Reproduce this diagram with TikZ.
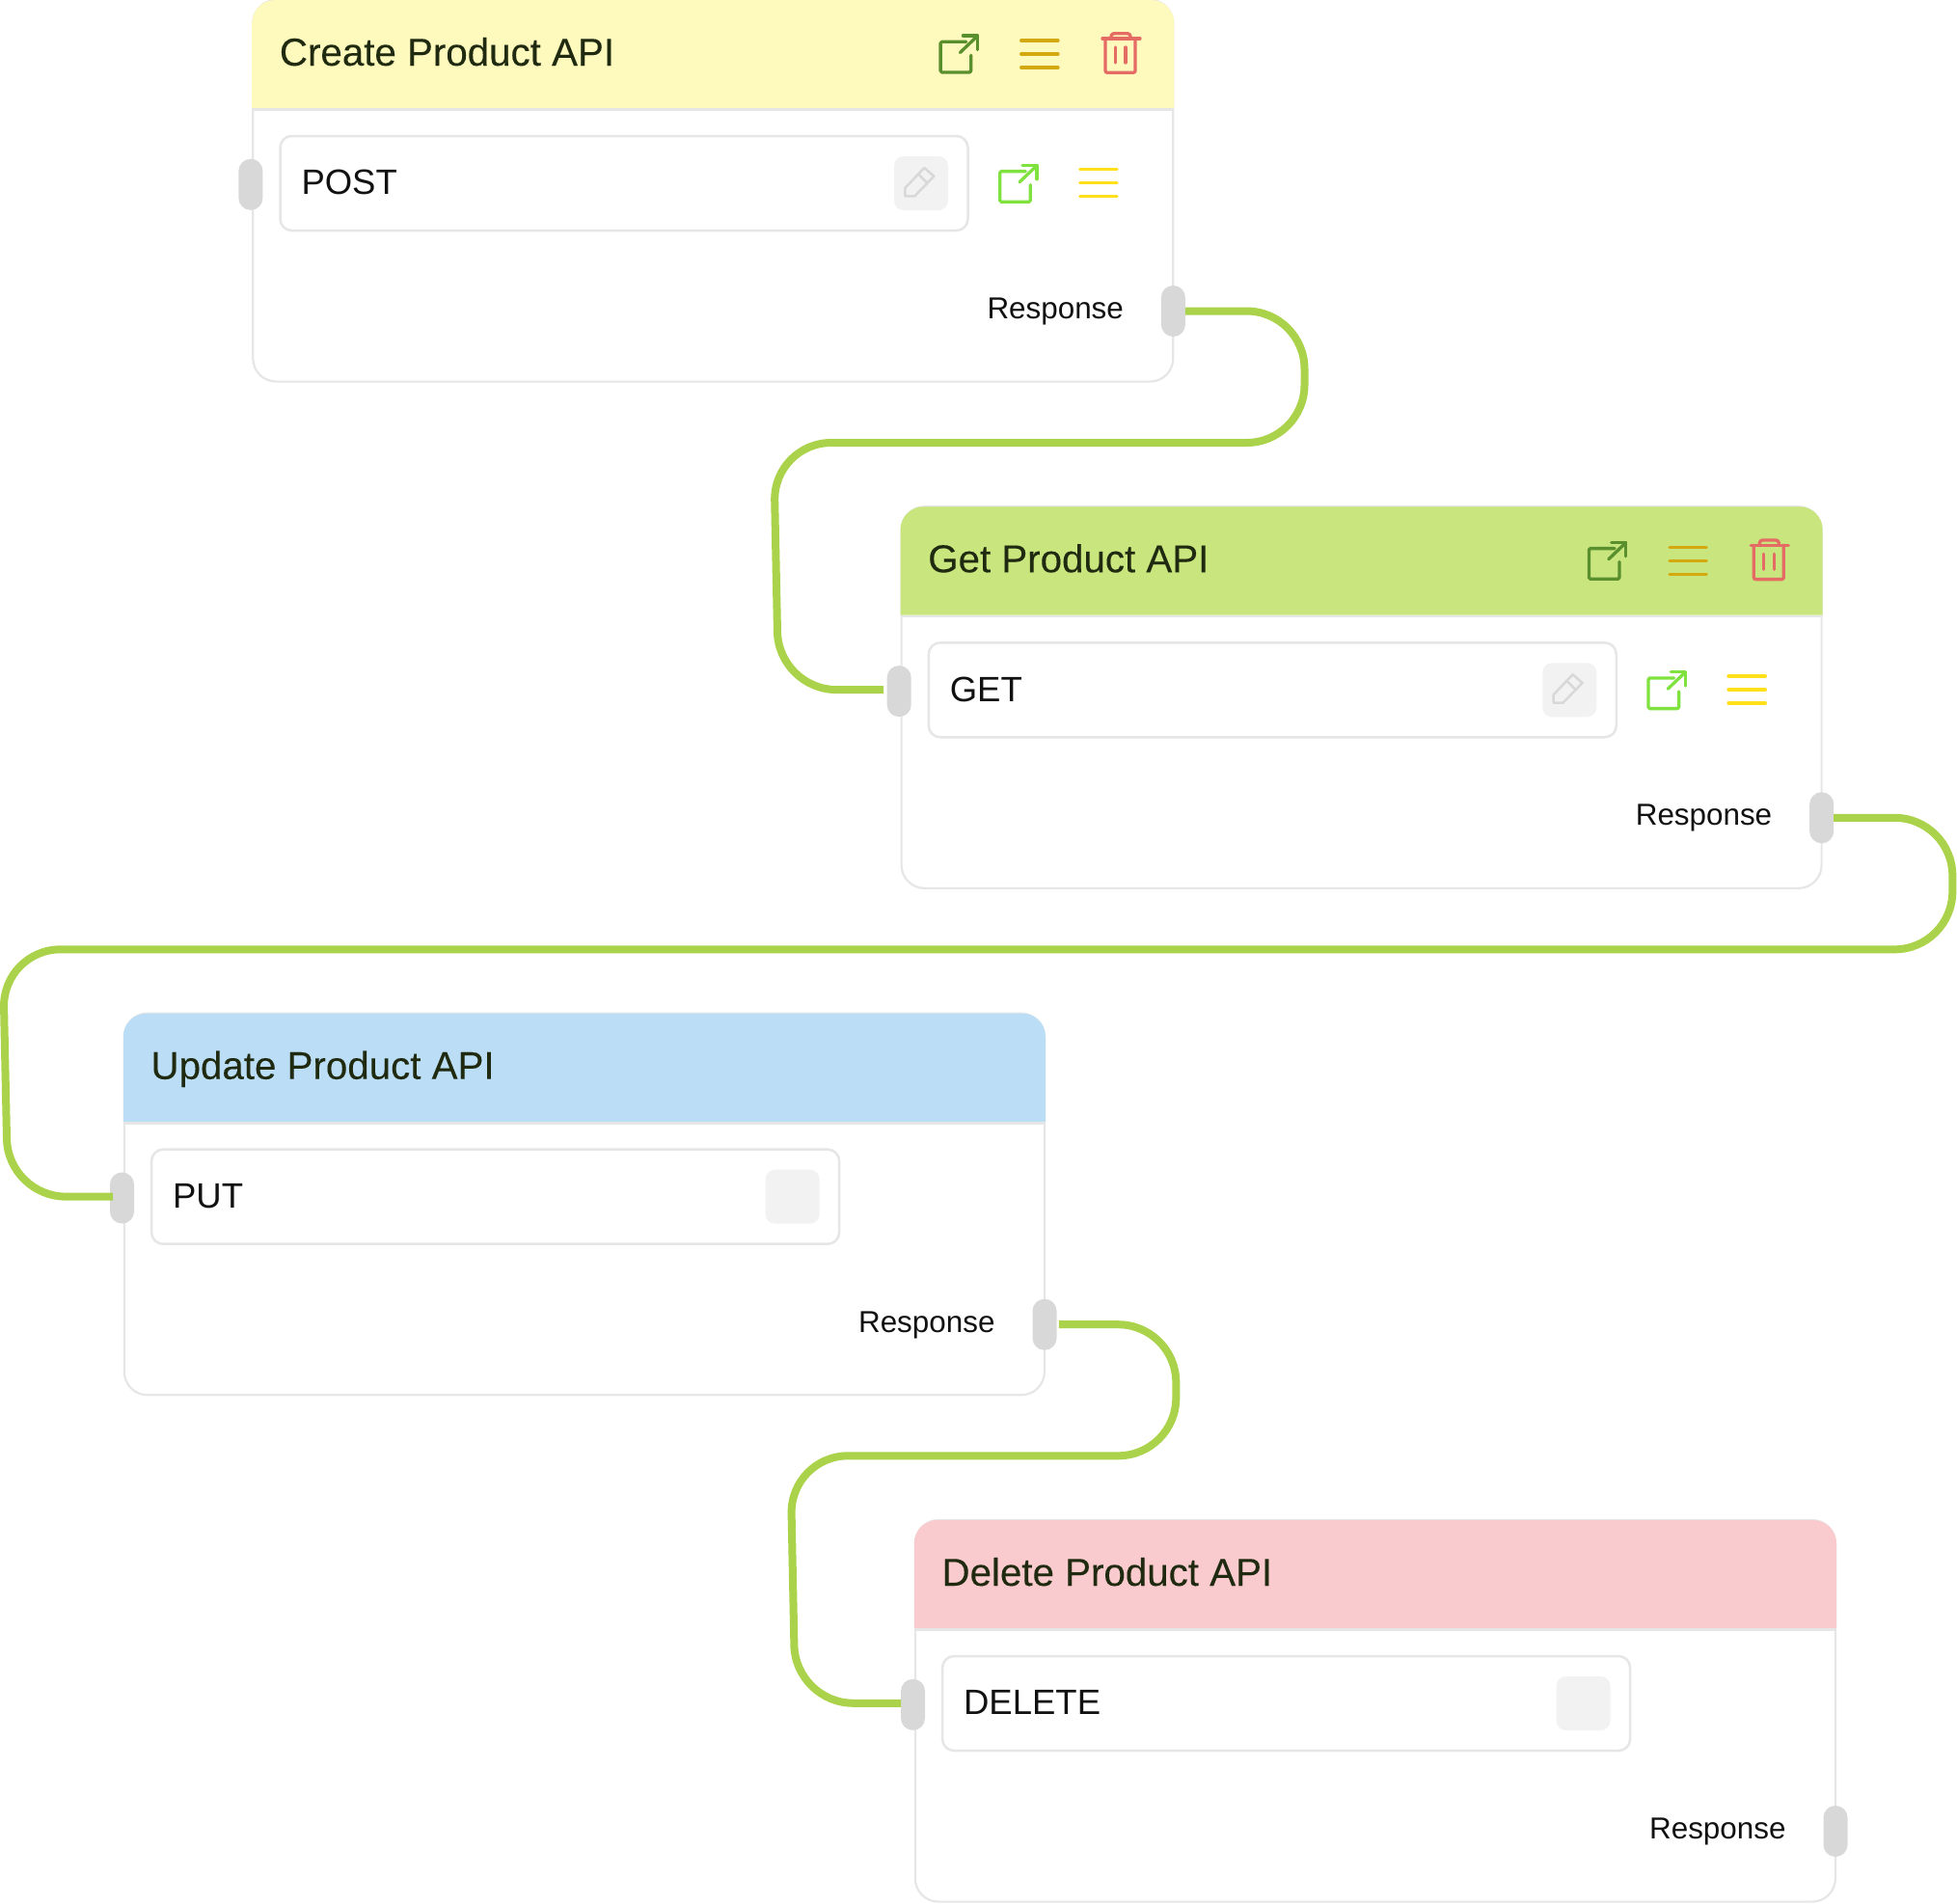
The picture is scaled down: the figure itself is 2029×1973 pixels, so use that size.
\documentclass[tikz,border=0pt]{standalone}
\usepackage{fontspec}
\setmainfont{Liberation Sans}
\newfontfamily\titlefont[FakeBold=0.12]{Liberation Sans}

\definecolor{cardline}{HTML}{E6E6E6}
\definecolor{handlegray}{HTML}{D8D8D8}
\definecolor{wiregreen}{HTML}{ABD24B}
\definecolor{titleink}{HTML}{1F2A10}
\definecolor{methodink}{HTML}{111111}
\definecolor{headyellow}{HTML}{FEF9BC}
\definecolor{headgreen}{HTML}{C9E57D}
\definecolor{headblue}{HTML}{BBDEF6}
\definecolor{headpink}{HTML}{F9CBCE}
\definecolor{opendark}{HTML}{5A8F2E}
\definecolor{openlight}{HTML}{7FE23F}
\definecolor{menudark}{HTML}{D4A90F}
\definecolor{menulight}{HTML}{FFE01A}
\definecolor{trashred}{HTML}{E56B65}

\tikzset{
  cardbody/.style={draw=cardline,line width=2.2pt,fill=white,rounded corners=24pt,minimum width=954pt,minimum height=395.6pt,inner sep=0pt,outer sep=0pt},
  cardhead/.style={rounded corners=24pt},
  carddivider/.style={draw=cardline,line width=2.5pt},
  inputbox/.style={draw=cardline,line width=2.5pt,fill=white,rounded corners=12pt,minimum width=713pt,minimum height=98pt,inner sep=0pt,outer sep=0pt},
  editbutton/.style={fill=black!5,rounded corners=10pt,minimum width=56pt,minimum height=56pt,inner sep=0pt,outer sep=0pt},
  porthandle/.style={fill=handlegray,rounded corners=12.4pt,minimum width=25pt,minimum height=53pt,inner sep=0pt,outer sep=0pt},
  cardtitle/.style={anchor=base west,inner sep=0pt,text=titleink,font=\titlefont\fontsize{40.3}{48}\selectfont},
  methodlabel/.style={anchor=base west,inner sep=0pt,text=methodink,font=\fontsize{36.5}{44}\selectfont},
  responselabel/.style={anchor=base east,inner sep=0pt,text=methodink,font=\fontsize{31.4}{36}\selectfont},
  wire/.style={draw=wiregreen,line width=8pt,rounded corners=60pt},
  iconline/.style={line width=3.3pt,line cap=round,line join=round},
  pics/openicon/.style={code={
    \draw[iconline,#1,rounded corners=1.5pt] (28.3,8.3) -- (1.7,8.3) -- (1.7,40) -- (33.3,40) -- (33.3,22.3);
    \draw[iconline,#1] (22,19.5) -- (40,2.3);
    \draw[iconline,#1] (25,2) -- (40,2) -- (40,16.5);
  }},
  pics/menuicon/.style={code={
    \draw[iconline,#1] (1.7,0) -- (40,0);
    \draw[iconline,#1] (1.7,14) -- (40,14);
    \draw[iconline,#1] (1.7,28) -- (40,28);
  }},
  pics/trashicon/.style={code={
    \draw[iconline,trashred] (1,7) -- (40,7);
    \draw[iconline,trashred,rounded corners=2pt] (4,7) -- (4,42.3) -- (35,42.3) -- (35,7);
    \draw[iconline,trashred,rounded corners=3pt] (10,7) -- (10,1.7) -- (30,1.7) -- (30,7);
    \draw[iconline,trashred] (14.3,16) -- (14.3,32);
    \draw[iconline,trashred] (25,16) -- (25,32);
  }},
  pics/pencilicon/.style={code={
    \draw[line width=2.5pt,handlegray,line join=round] (-16.4,13.3) -- (-16.4,5) -- (3.6,-16) -- (13.6,-7.3) -- (-6.4,13.3) -- cycle;
    \draw[line width=2.5pt,handlegray] (-3,-10) -- (7,0);
  }}
}

\begin{document}
\begin{tikzpicture}[x=1pt,y=-1pt]
\useasboundingbox (0,0) rectangle (2029,1973);

\begin{scope}[shift={(261.7,0)}]
\node[cardbody] (createCard) at (477.6,197.8) {};
\fill[headyellow,cardhead] (-0.5,112.4) -- (-0.5,0) -- (955.7,0) -- (955.7,112.4);
\draw[carddivider] (0,113.7) -- (955,113.7);
\node[cardtitle] (createTitle) at (28,68) {Create Product API};
\pic at (711.7,35) {openicon=opendark};
\pic at (795.3,42) {menuicon=menudark};
\pic at (880.3,33) {trashicon};
\node[inputbox] (createInput) at (385.3,190) {};
\node[methodlabel] (createMethod) at (50.6,201.7) {POST};
\node[editbutton] (createEdit) at (693.3,190) {};
\pic at (693,190) {pencilicon};
\pic at (773.3,169.3) {openicon=openlight};
\pic at (856.3,175.7) {menuicon=menulight};
\node[responselabel] (createResponse) at (903.4,330.4) {Response};
\node[porthandle] (createIn) at (-1.8,191.3) {};
\node[porthandle] (createOut) at (954.7,322.5) {};
\end{scope}

\begin{scope}[shift={(934,525.3)}]
\node[cardbody] (getCard) at (477.6,197.8) {};
\fill[headgreen,cardhead] (-0.5,112.4) -- (-0.5,0) -- (955.7,0) -- (955.7,112.4);
\draw[carddivider] (0,113.7) -- (955,113.7);
\node[cardtitle] (getTitle) at (28,68) {Get Product API};
\pic at (711.7,35) {openicon=opendark};
\pic at (795.3,42) {menuicon=menudark};
\pic at (880.3,33) {trashicon};
\node[inputbox] (getInput) at (385.3,190) {};
\node[methodlabel] (getMethod) at (50.6,201.7) {GET};
\node[editbutton] (getEdit) at (693.3,190) {};
\pic at (693,190) {pencilicon};
\pic at (773.3,169.3) {openicon=openlight};
\pic at (856.3,175.7) {menuicon=menulight};
\node[responselabel] (getResponse) at (903.4,330.4) {Response};
\node[porthandle] (getIn) at (-1.8,191.3) {};
\node[porthandle] (getOut) at (954.7,322.5) {};
\end{scope}

\begin{scope}[shift={(128.3,1050.7)}]
\node[cardbody] (updateCard) at (477.6,197.8) {};
\fill[headblue,cardhead] (-0.5,112.4) -- (-0.5,0) -- (955.7,0) -- (955.7,112.4);
\draw[carddivider] (0,113.7) -- (955,113.7);
\node[cardtitle] (updateTitle) at (28,68) {Update Product API};
\node[inputbox] (updateInput) at (385.3,190) {};
\node[methodlabel] (updateMethod) at (50.6,201.7) {PUT};
\node[editbutton] (updateEdit) at (693.3,190) {};
\node[responselabel] (updateResponse) at (903.4,330.4) {Response};
\node[porthandle] (updateIn) at (-1.8,191.3) {};
\node[porthandle] (updateOut) at (954.7,322.5) {};
\end{scope}

\begin{scope}[shift={(948.3,1576)}]
\node[cardbody] (deleteCard) at (477.6,197.8) {};
\fill[headpink,cardhead] (-0.5,112.4) -- (-0.5,0) -- (955.7,0) -- (955.7,112.4);
\draw[carddivider] (0,113.7) -- (955,113.7);
\node[cardtitle] (deleteTitle) at (28,68) {Delete Product API};
\node[inputbox] (deleteInput) at (385.3,190) {};
\node[methodlabel] (deleteMethod) at (50.6,201.7) {DELETE};
\node[editbutton] (deleteEdit) at (693.3,190) {};
\node[responselabel] (deleteResponse) at (903.4,330.4) {Response};
\node[porthandle] (deleteIn) at (-1.8,191.3) {};
\node[porthandle] (deleteOut) at (954.7,322.5) {};
\end{scope}

\draw[wire,shorten >=3.7pt] (createOut.east) -- (1352.5,322.5) -- (1352.5,459) -- (802,459) -- (807.2,715) -- ([yshift=1.5pt]getIn.west);
\draw[wire] (getOut.east) -- (2024.3,847.8) -- (2024.3,984.3) -- (2.8,984.3) -- (8.3,1240.7) -- ([xshift=3pt,yshift=1.5pt]updateIn.west);
\draw[wire,shorten <=2.3pt] (updateOut.east) -- (1219.3,1373.2) -- (1219.3,1509.3) -- (819.4,1509.3) -- (824.6,1765.7) -- ([yshift=1.5pt]deleteIn.west);
\end{tikzpicture}
\end{document}
